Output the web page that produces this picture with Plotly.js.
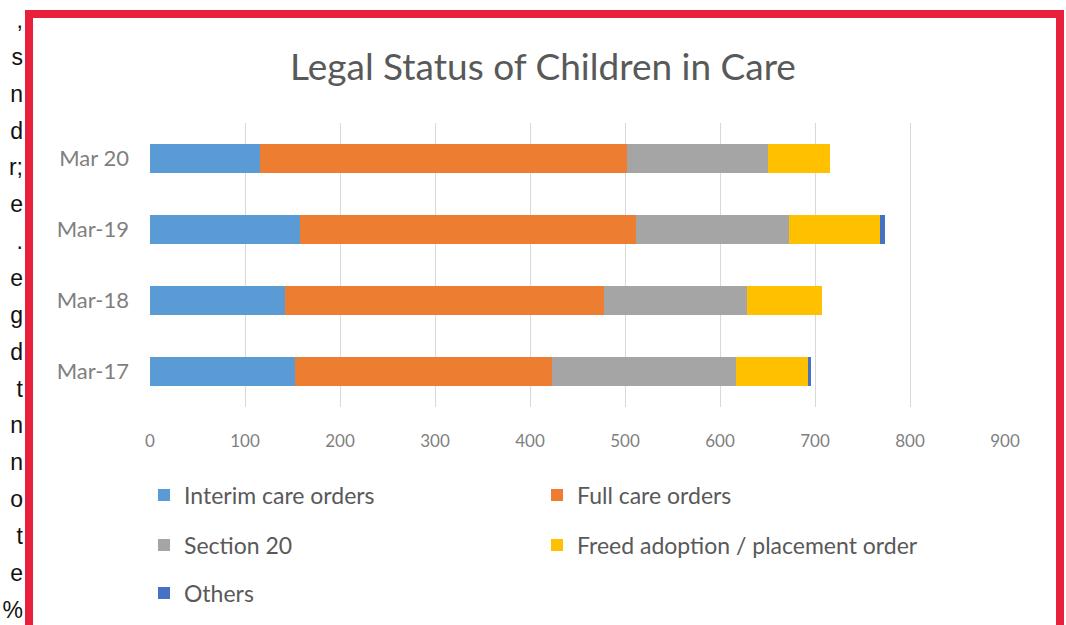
<!DOCTYPE html>
<html><head><meta charset="utf-8">
<script src="https://cdn.plot.ly/plotly-3.0.1.min.js"></script>
<style>
body{margin:0;background:#fff;}
#wrap{position:relative;width:1066px;height:625px;overflow:hidden;background:#fff;}
#chart{position:absolute;left:0;top:0;width:1066px;height:625px;}
#frame{position:absolute;left:25px;top:10px;width:1023px;height:700px;border:8px solid #e8203c;pointer-events:none;}
#side{position:absolute;left:-18px;top:2px;width:41px;text-align:right;font-family:'Liberation Sans',Arial,sans-serif;font-size:23px;line-height:36.86px;color:#111;}
</style></head>
<body>
<div id="wrap">
<div id="chart"></div>
<div id="side">,<br>s<br>n<br>d<br>r;<br>e<br>.<br>e<br>g<br>d<br>t<br>n<br>n<br>o<br>t<br>e<br>%</div>
<div id="frame"></div>
</div>
<script>
const categories = ["Mar-17", "Mar-18", "Mar-19", "Mar 20"];
const interim = [153, 142, 158, 116];
const fullCare = [270, 336, 354, 386];
const section20 = [194, 150, 161, 149];
const freed = [76, 79, 95, 65];
const others = [3, 0, 6, 0];
const seriesNames = ["Interim care orders", "Full care orders", "Section 20", "Freed adoption / placement order", "Others"];
const colors = ["#5B9BD5", "#ED7D31", "#A5A5A5", "#FFC000", "#4472C4"];
const legendIds = ["legend", "legend2", "legend3", "legend4", "legend5"];
const values = [interim, fullCare, section20, freed, others];

const traces = values.map((v, i) => ({
  type: "bar",
  orientation: "h",
  y: categories,
  x: v,
  name: seriesNames[i],
  marker: {color: colors[i]},
  legend: legendIds[i],
  hoverinfo: "x+name"
}));

const legendFont = {family: "Lato, 'Open Sans', sans-serif", size: 23, color: "#595959"};
function leg(xPx, yPx) {
  return {
    orientation: "h",
    xref: "container", yref: "container",
    x: xPx / 1066, xanchor: "left",
    y: 1 - yPx / 625, yanchor: "middle",
    font: legendFont,
    bgcolor: "rgba(0,0,0,0)"
  };
}

const tickFont = {family: "Lato, 'Open Sans', sans-serif", size: 17, color: "#7f7f7f"};

const layout = {
  width: 1066, height: 625,
  paper_bgcolor: "rgba(0,0,0,0)",
  plot_bgcolor: "#fff",
  margin: {l: 150, r: 61, t: 123, b: 218},
  barmode: "stack",
  bargap: 0.6,
  title: {
    text: "Legal Status of Children in Care",
    font: {family: "Lato, 'Open Sans', sans-serif", size: 37, color: "#595959"},
    xref: "container", x: 543 / 1066, xanchor: "center",
    yref: "container", y: 1 - 67 / 625, yanchor: "middle"
  },
  xaxis: {
    range: [0, 900], dtick: 100, tick0: 0,
    showgrid: true, gridcolor: "#d9d9d9", gridwidth: 1,
    zeroline: false, showline: false, ticks: "",
    ticklabelstandoff: 22,
    tickfont: tickFont,
    fixedrange: true
  },
  yaxis: {
    type: "category",
    categoryorder: "array", categoryarray: categories,
    showgrid: false, zeroline: false, showline: false, ticks: "",
    ticklabelstandoff: 20,
    tickfont: {family: "Lato, 'Open Sans', sans-serif", size: 22, color: "#7f7f7f"},
    fixedrange: true
  },
  legend: leg(144, 495),
  legend2: leg(537, 495),
  legend3: leg(144, 545),
  legend4: leg(537, 545),
  legend5: leg(144, 593),
  showlegend: true
};

Plotly.newPlot("chart", traces, layout, {displayModeBar: false});
</script>
</body></html>
